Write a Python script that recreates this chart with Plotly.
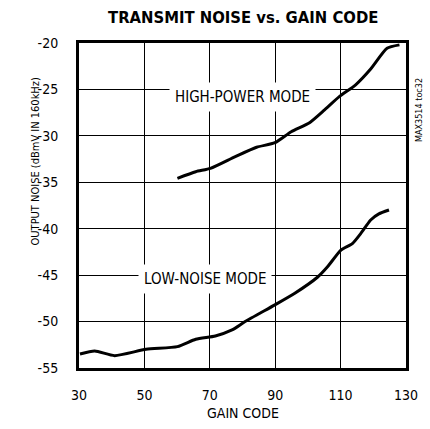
import plotly.graph_objects as go

# Gain code (x) vs. output noise in dBmV (y), read per operating mode
high_power_code = [60.1, 65.7, 70.2, 77.8, 84.3, 89.9, 94.9, 100.5, 105.1, 109.6, 114.6, 119.2, 124.2, 128.0]
high_power_noise = [-34.57, -33.86, -33.5, -32.24, -31.23, -30.74, -29.55, -28.58, -27.2, -25.78, -24.5, -22.8, -20.57, -20.2]

low_noise_code = [30.3, 34.8, 40.9, 50.5, 60.1, 65.7, 71.7, 76.8, 80.8, 89.9, 96.0, 103.0, 106.0, 110.1, 113.6, 116.2, 119.2, 121.7, 124.8]
low_noise_noise = [-53.5, -53.17, -53.67, -52.99, -52.7, -51.9, -51.55, -50.9, -50.0, -48.2, -46.95, -45.2, -44.1, -42.3, -41.6, -40.5, -39.06, -38.4, -37.98]

x_ticks = [30, 50, 70, 90, 110, 130]
y_ticks = [-20, -25, -30, -35, -40, -45, -50, -55]

FONT = "DejaVu Sans Condensed, Arial Narrow, sans-serif"

fig = go.Figure()
for xs, ys in [(high_power_code, high_power_noise), (low_noise_code, low_noise_noise)]:
    fig.add_trace(go.Scatter(
        x=xs, y=ys, mode="lines",
        line=dict(color="black", width=3, shape="spline", smoothing=0.6),
        showlegend=False, hoverinfo="skip",
    ))

fig.update_layout(
    width=430, height=429,
    margin=dict(l=79, r=21, t=43, b=61),
    paper_bgcolor="white", plot_bgcolor="white",
    font=dict(family=FONT, color="black", size=14),
    xaxis=dict(
        range=[30, 130], tickvals=x_ticks, ticktext=[str(v) for v in x_ticks],
        showgrid=True, gridcolor="black", gridwidth=1,
        showline=True, linecolor="black", linewidth=3, mirror=True,
        ticks="", ticklabelstandoff=12, zeroline=False,
        tickfont=dict(size=14),
    ),
    yaxis=dict(
        range=[-55, -20], tickvals=y_ticks, ticktext=[str(v) for v in y_ticks],
        showgrid=True, gridcolor="black", gridwidth=1,
        showline=True, linecolor="black", linewidth=3, mirror=True,
        ticks="", ticklabelstandoff=15, zeroline=False,
        tickfont=dict(size=14),
    ),
    annotations=[
        dict(text="<b>TRANSMIT NOISE vs. GAIN CODE</b>", xref="paper", yref="paper",
             x=0.5, y=1, yshift=26, yanchor="middle", showarrow=False,
             font=dict(size=16.5, family=FONT)),
        dict(text="GAIN CODE", xref="paper", yref="paper", x=0.5, y=0,
             yshift=-45, yanchor="middle", showarrow=False, font=dict(size=14)),
        dict(text="OUTPUT NOISE (dBmV IN 160kHz)", xref="paper", yref="paper",
             x=0, xshift=-52, y=0.634, textangle=-90, showarrow=False,
             font=dict(size=11)),
        dict(text="MAX3514 toc32", xref="paper", yref="paper", x=1, xshift=20,
             y=1, yshift=-33, textangle=-90, showarrow=False,
             font=dict(size=9)),
        dict(text="HIGH-POWER MODE", x=80, y=-25.8, showarrow=False,
             bgcolor="white", borderpad=5, font=dict(size=15)),
        dict(text="LOW-NOISE MODE", x=68.5, y=-45.45, showarrow=False,
             bgcolor="white", borderpad=5, font=dict(size=15)),
    ],
)

fig.write_html("out.html")
